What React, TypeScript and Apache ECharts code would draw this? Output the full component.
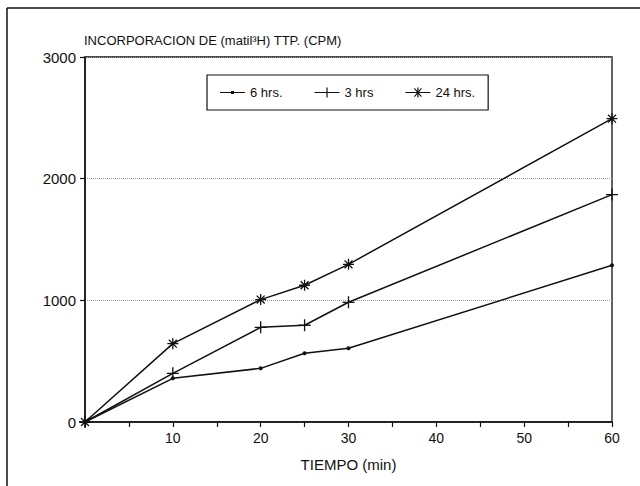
import React, { useEffect, useRef } from "react";
import * as echarts from "echarts";

const minutes = [0, 10, 20, 25, 30, 60];
const seriesNames = ["6 hrs.", "3 hrs", "24 hrs."];
const hrs6 = [0, 359, 441, 565, 606, 1288];
const hrs3 = [0, 400, 778, 795, 984, 1869];
const hrs24 = [0, 644, 1006, 1124, 1296, 2493];
const xTickLabels = [10, 20, 30, 40, 50, 60];
const titleText = "INCORPORACION DE (matil\u00B3H) TTP. (CPM)";
const xAxisName = "TIEMPO (min)";

const PLUS = "path://M0,-5L0,5M-5,0L5,0";
const STAR = "path://M0,-5L0,5M-5,0L5,0M-3.6,-3.6L3.6,3.6M-3.6,3.6L3.6,-3.6";

const ICON_DOT = "path://M0,4.4h25v1.2h-25z M11,3.5h3v3h-3z";
const ICON_PLUS = "path://M0,4.4h25v1.2h-25z M11.9,0h1.2v10h-1.2z";
const ICON_STAR =
  "path://M0,4.4h25v1.2h-25z M11.9,0h1.2v10h-1.2z M8.6,1.3L9.4,0.6L16.4,8.7L15.6,9.4z M15.6,0.6L16.4,1.3L9.4,9.4L8.6,8.7z";

const FONT = "'Liberation Sans', Arial, Helvetica, sans-serif";

export default function App() {
  const ref = useRef<HTMLDivElement>(null);
  useEffect(() => {
    document.body.style.margin = "0";
    const chart = echarts.init(ref.current!, null, { renderer: "svg" });
    const mk = (name: string, vals: number[], symbol: string, size: number) => ({
      name,
      type: "line",
      data: minutes.map((m, i) => [m, vals[i]]),
      symbol,
      symbolSize: size,
      showSymbol: true,
      lineStyle: { color: "#111", width: 1.5 },
      itemStyle: { color: "#111", borderColor: "#111", borderWidth: symbol === "circle" ? 0 : 1.3 },
      emphasis: { disabled: true },
    });
    chart.setOption({
      animation: false,
      backgroundColor: "#fff",
      textStyle: { fontFamily: FONT, color: "#111" },
      title: {
        text: titleText,
        left: 84,
        top: 34,
        padding: 0,
        textStyle: { fontSize: 13, fontWeight: "normal", color: "#111", fontFamily: FONT },
      },
      legend: {
        left: 207,
        top: 75,
        padding: [11, 13],
        itemGap: 32,
        itemWidth: 25,
        itemHeight: 10,
        borderColor: "#111",
        borderWidth: 1.2,
        data: [
          { name: seriesNames[0], icon: ICON_DOT, itemStyle: { color: "#111", borderWidth: 0 } },
          { name: seriesNames[1], icon: ICON_PLUS, itemStyle: { color: "#111", borderWidth: 0 } },
          { name: seriesNames[2], icon: ICON_STAR, itemStyle: { color: "#111", borderWidth: 0 } },
        ],
        textStyle: { fontSize: 13, color: "#111", fontFamily: FONT },
      },
      grid: {
        left: 85,
        top: 57,
        right: 28,
        bottom: 64,
        show: true,
        borderColor: "#111",
        borderWidth: 1.3,
      },
      xAxis: {
        type: "value",
        min: 0,
        max: 60,
        interval: 5,
        name: xAxisName,
        nameLocation: "middle",
        nameGap: 35,
        nameTextStyle: { fontSize: 15, color: "#111", fontFamily: FONT },
        axisLine: { lineStyle: { color: "#111", width: 1.5 } },
        axisTick: { inside: false, length: 5, lineStyle: { color: "#111", width: 1.2 } },
        axisLabel: {
          margin: 9,
          fontSize: 14,
          color: "#111",
          formatter: (v: number) => (xTickLabels.includes(v) ? String(v) : ""),
        },
        splitLine: { show: false },
      },
      yAxis: {
        type: "value",
        min: 0,
        max: 3000,
        interval: 1000,
        axisLine: { show: true, lineStyle: { color: "#111", width: 1.5 } },
        axisTick: { show: true, inside: false, length: 5, lineStyle: { color: "#111", width: 1.2 } },
        axisLabel: { margin: 9, fontSize: 15, color: "#111", formatter: (v: number) => String(v) },
        splitLine: { show: true, lineStyle: { color: "#999", width: 1, type: "dotted" } },
      },
      graphic: [
        { type: "line", shape: { x1: 7, y1: 8, x2: 640, y2: 8 }, style: { stroke: "#111", lineWidth: 1.5 } },
        { type: "line", shape: { x1: 7, y1: 8, x2: 7, y2: 486 }, style: { stroke: "#111", lineWidth: 1.5 } },
      ],
      series: [
        mk(seriesNames[0], hrs6, "circle", 4),
        mk(seriesNames[1], hrs3, PLUS, 12),
        mk(seriesNames[2], hrs24, STAR, 11),
      ],
    });
    return () => chart.dispose();
  }, []);
  return <div ref={ref} style={{ width: 640, height: 486 }} />;
}
